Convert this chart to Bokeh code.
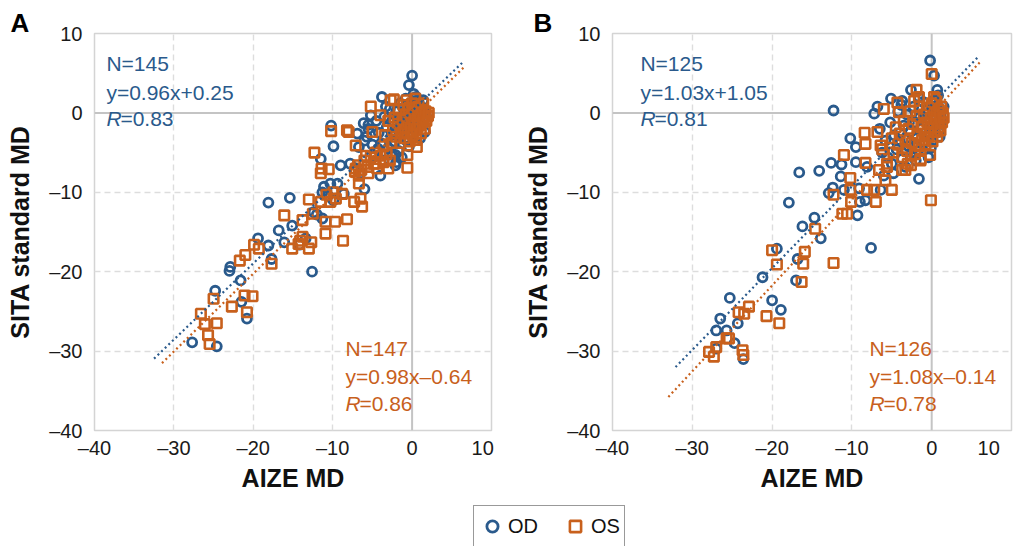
from bokeh.plotting import figure
from bokeh.models import (Range1d, FixedTicker, CustomJSTickFormatter, Span, Label,
                          Legend, LegendItem)
from bokeh.layouts import column, row
from bokeh.embed import file_html
from bokeh.resources import INLINE

BLUE = "#2A5A8C"
ORANGE = "#C8601C"
FONT = "Liberation Sans"

TICKS = [-40, -30, -20, -10, 0, 10]
GRID_TICKS = [-30, -20, -10]

# ---------------- Panel A data (AIZE MD, SITA standard MD) ----------------
A_OD = [(-27.7, -28.9), (-24.6, -29.4), (-24.8, -22.4), (-22.9, -19.4), (-23.0, -19.9),
        (-21.6, -21.1), (-21.5, -23.8), (-20.8, -25.9), (-19.4, -15.8), (-18.1, -16.7),
        (-18.1, -11.3), (-17.7, -18.4), (-16.8, -14.8), (-16.1, -16.3), (-15.4, -10.7),
        (-15.1, -14.2), (-12.6, -20.0), (-12.4, -12.5), (-11.5, -5.8), (-11.3, -10.0),
        (-11.3, -13.3), (-11.1, -9.3), (-10.2, -1.6), (-9.9, -4.2), (-10.3, -8.9),
        (-9.9, -11.0), (-9.4, -8.9), (-9.0, -6.6), (-7.8, -6.4), (-6.9, -2.6),
        (-6.7, -4.3), (-6.5, -7.6), (-6.1, -1.3), (-5.2, -0.3), (-5.7, -3.0),
        (-3.8, 2.0), (-4.0, -7.9), (-2.1, -6.6), (-2.1, -5.3), (-0.4, 3.5),
        (0.0, 4.7), (0.2, 2.4), (0.6, -3.0), (0.8, 1.6), (-10.6, -10.4),
        (-8.6, -10.2), (-12.0, -12.8), (-13.4, -15.8), (-14.2, -16.6), (-6.0, -9.6),
        (-4.3, -4.5), (-5.5, -1.5),
        (-4.5, -1.0), (-4.2, -2.5), (-3.9, -3.8), (-3.5, -0.5), (-3.2, -1.8),
        (-3.0, -4.5), (-2.8, 0.5), (-2.6, -2.8), (-2.4, -1.2), (-2.2, -3.6),
        (-2.0, 0.2), (-1.9, -2.0), (-1.7, -4.8), (-1.6, -0.8), (-1.5, 1.2),
        (-1.4, -3.0), (-1.2, -1.5), (-1.1, 0.6), (-1.0, -2.4), (-0.9, -0.3),
        (-0.8, 1.8), (-0.7, -3.5), (-0.6, -1.0), (-0.5, 0.3), (-0.4, -2.0),
        (-0.3, 1.0), (-0.2, -0.6), (-0.1, -1.6), (0.0, 0.0), (0.1, -2.8),
        (0.2, 0.8), (0.3, -1.2), (0.4, 1.5), (0.5, -0.4), (0.6, -2.2),
        (0.7, 0.4), (0.8, -1.0), (0.9, 1.1), (1.0, -0.2), (1.1, -1.6),
        (1.2, 0.6), (1.3, -0.8), (1.5, 0.2), (1.6, -2.4), (1.8, -0.5),
        (-5.0, -4.0), (-4.8, -5.5), (-3.6, -6.0), (-2.5, -5.2), (-6.0, -3.5),
        (-5.5, -2.0), (-3.3, 0.8), (-2.0, -6.2), (1.4, 1.6), (0.5, 2.0),
        (-0.4, -4.2), (1.0, -3.2), (-1.3, -5.6)]

A_OS = [(-26.6, -25.3), (-26.1, -26.6), (-25.7, -28.0), (-25.5, -29.1), (-25.0, -23.4),
        (-24.6, -26.5), (-22.7, -24.4), (-21.7, -18.6), (-21.0, -17.9), (-21.1, -23.0),
        (-20.8, -25.1), (-20.1, -23.1), (-19.9, -16.6), (-19.3, -17.1), (-17.7, -19.0),
        (-16.1, -12.9), (-15.1, -17.1), (-14.3, -16.5), (-14.1, -16.1), (-13.8, -13.5),
        (-13.8, -15.6), (-13.0, -17.1), (-12.7, -16.3), (-13.0, -10.9), (-12.5, -12.7),
        (-12.3, -5.0), (-11.5, -11.2), (-11.5, -7.6), (-11.4, -7.0), (-10.5, -7.1),
        (-10.9, -13.7), (-10.9, -15.2), (-10.2, -2.3), (-10.3, -11.2), (-9.9, -10.0),
        (-9.7, -13.7), (-8.8, -10.2), (-8.7, -16.1), (-8.2, -13.4), (-8.2, -2.2),
        (-8.0, -2.4), (-7.3, -11.2), (-7.1, -4.1), (-7.1, -7.0), (-6.7, -7.9),
        (-6.7, -8.9), (-6.5, -10.8), (-6.3, -11.8), (-5.2, 0.8), (-5.0, -2.4),
        (-5.5, -7.6), (-4.6, -6.4), (-4.0, -0.3), (-2.7, 1.6), (-2.3, 1.7),
        (-0.6, -5.3), (-0.6, -6.9), (0.6, -4.3), (-10.8, -10.3), (-9.6, -10.8),
        (-2.6, -3.8), (-2.4, -2.2), (-2.2, -0.6), (-2.0, -3.0), (-1.8, -1.4),
        (-1.7, 0.4), (-1.5, -3.8), (-1.4, -2.4), (-1.2, -0.9), (-1.1, 1.0),
        (-1.0, -3.2), (-0.9, -1.8), (-0.8, -0.2), (-0.7, 1.6), (-0.6, -2.6),
        (-0.5, -1.2), (-0.4, 0.6), (-0.3, -3.6), (-0.2, -2.0), (-0.1, -0.4),
        (0.0, 1.2), (0.1, -2.8), (0.2, -1.4), (0.3, 0.2), (0.4, 1.8),
        (0.5, -3.4), (0.6, -2.0), (0.7, -0.8), (0.8, 0.8), (0.9, -1.6),
        (1.0, -0.2), (1.1, -2.6), (1.2, 0.4), (1.3, -1.2), (1.4, 1.2),
        (1.5, -0.6), (1.6, -2.0), (1.7, 0.2), (1.8, -1.0), (2.0, -0.4),
        (2.1, 0.0), (-3.0, -1.0), (-3.4, -2.8), (-3.6, -4.2),
        (-7.2, -7.4), (-6.8, -6.6), (-6.4, -7.2), (-6.0, -6.0), (-5.6, -6.8),
        (-5.2, -5.6), (-4.8, -6.4), (-4.4, -7.0), (-4.0, -5.4), (-3.6, -6.2),
        (-3.2, -5.2), (-2.8, -6.0), (-3.0, -7.0), (-4.6, -5.0), (-5.8, -5.4)]

# ---------------- Panel B data ----------------
B_OD = [(-27.0, -29.7), (-27.0, -27.4), (-26.5, -25.9), (-25.7, -27.4), (-25.3, -23.3),
        (-24.7, -29.0), (-24.3, -26.5), (-23.6, -31.0), (-21.2, -20.7), (-20.0, -23.6),
        (-19.4, -17.1), (-18.9, -24.8), (-17.9, -11.3), (-17.0, -21.1), (-16.8, -18.4),
        (-16.6, -7.5), (-16.2, -14.3), (-14.7, -13.2), (-14.1, -7.3), (-13.9, -15.8),
        (-12.9, -10.1), (-12.6, -6.3), (-12.3, 0.3), (-12.4, -9.4), (-11.4, -8.0),
        (-11.3, -6.5), (-11.0, -9.7), (-10.2, -3.2), (-9.5, -4.3), (-9.5, -6.2),
        (-9.3, -12.9), (-9.1, -9.5), (-9.0, -11.2), (-8.3, -11.0), (-8.1, -6.8),
        (-7.6, -17.0), (-7.2, -0.1), (-6.8, 0.8), (-6.4, -9.7), (-6.0, -7.9),
        (-5.1, 1.8), (-3.7, 1.5), (-2.6, 2.9), (-1.6, -8.3), (-0.2, 6.6),
        (0.3, 4.7), (0.7, 2.9), (1.1, -0.3), (-0.3, -2.4),
        (-5.8, -3.5), (-5.5, -5.6), (-5.2, -1.2), (-5.0, -6.4), (-4.7, -2.8),
        (-4.4, -4.6), (-4.2, 0.2), (-4.0, -3.4), (-3.7, -5.8), (-3.5, -1.6),
        (-3.3, -6.8), (-3.1, -0.2), (-2.9, -4.2), (-2.7, -2.4), (-2.5, -5.0),
        (-2.3, 0.8), (-2.1, -1.2), (-1.9, -3.2), (-1.7, -4.8), (-1.5, -0.6),
        (-1.3, -2.0), (-1.1, 1.4), (-0.9, -3.6), (-0.7, -1.0), (-0.5, 0.4),
        (-0.3, -2.8), (-0.1, -4.4), (0.1, -0.2), (0.3, 1.6), (0.5, -1.6),
        (0.7, 0.6), (0.9, -2.4), (1.1, 0.0), (1.3, -1.0), (1.5, 0.8),
        (-6.2, -5.0), (-4.8, -7.6), (-2.0, -6.0), (-0.4, -5.6), (0.8, 2.2),
        (-1.6, 2.0), (-3.8, 1.0), (-6.5, -2.0), (0.0, -3.6), (1.0, -3.0)]

B_OS = [(-27.9, -30.1), (-27.3, -30.7), (-27.0, -29.5), (-25.7, -28.4), (-25.4, -28.4),
        (-24.2, -25.1), (-23.5, -25.3), (-22.9, -24.4), (-23.7, -29.9), (-23.6, -30.5),
        (-20.7, -25.6), (-20.0, -17.3), (-19.4, -19.1), (-19.1, -26.5), (-16.3, -21.3),
        (-16.1, -19.0), (-15.9, -17.5), (-14.6, -14.6), (-12.3, -18.9), (-12.3, -10.3),
        (-11.2, -12.7), (-10.6, -12.7), (-11.0, -5.3), (-10.2, -8.2), (-10.2, -9.7),
        (-10.1, -11.2), (-8.4, -2.5), (-8.3, -3.9), (-8.3, -6.3), (-8.1, -9.7),
        (-7.2, -9.7), (-7.0, -11.2), (-6.8, -2.4), (-6.6, -7.2), (-6.4, -4.1),
        (-6.0, 0.5), (-5.8, -8.5), (-5.6, -6.8), (-5.0, -9.7), (-4.3, 1.3),
        (-4.1, 0.1), (-3.7, -7.2), (-3.3, -7.2), (-2.6, -6.6), (-1.9, 2.9),
        (-1.6, 2.0), (-1.4, -5.8), (-0.2, -5.3), (0.0, 4.9), (-0.1, -11.0),
        (0.3, 2.0), (0.9, -1.3),
        (-5.0, -3.2), (-4.8, -5.0), (-4.5, -1.8), (-4.2, -4.0), (-4.0, -2.6),
        (-3.7, -5.6), (-3.5, -1.0), (-3.3, -3.4), (-3.1, -4.8), (-2.9, -2.0),
        (-2.7, 0.2), (-2.5, -3.8), (-2.3, -1.4), (-2.1, -5.2), (-1.9, -0.4),
        (-1.8, -2.8), (-1.6, -4.2), (-1.5, 0.8), (-1.3, -1.8), (-1.2, -3.4),
        (-1.0, -0.2), (-0.9, -2.6), (-0.8, -4.0), (-0.6, 0.6), (-0.5, -1.2),
        (-0.4, -3.0), (-0.2, -2.0), (-0.1, -0.6), (0.0, 1.2), (0.1, -3.6),
        (0.2, -1.4), (0.3, 0.2), (0.4, -2.4), (0.5, -0.8), (0.6, 1.8),
        (0.7, -3.0), (0.8, -1.8), (0.9, 0.4), (1.0, -0.4), (1.1, -2.2),
        (1.2, 0.8), (1.3, -1.2), (1.4, 0.0), (-5.6, -6.4), (-6.2, -4.6),
        (-3.0, -6.4), (-1.4, -6.0), (1.5, -0.6), (-2.2, 1.5)]

# regression fits: slope, intercept, x start, x end
A_OD_FIT = (0.96, 0.25, -32.5, 6.5)
A_OS_FIT = (0.98, -0.64, -31.5, 6.5)
B_OD_FIT = (1.03, 1.05, -32.1, 5.8)
B_OS_FIT = (1.08, -0.14, -33.0, 6.0)

A_OD_TEXT = ["N=145", "y=0.96x+0.25", "=0.83"]
A_OS_TEXT = ["N=147", "y=0.98x\u20130.64", "=0.86"]
B_OD_TEXT = ["N=125", "y=1.03x+1.05", "=0.81"]
B_OS_TEXT = ["N=126", "y=1.08x\u20130.14", "=0.78"]

X_FMT = CustomJSTickFormatter(code="""
var s = tick < 0 ? '\\u2013' + Math.abs(tick) : '' + tick;
return tick >= 10 ? s + '\\u00a0\\u00a0\\u00a0' : s;
""")
Y_FMT = CustomJSTickFormatter(code="return tick < 0 ? '\\u2013' + Math.abs(tick) : '' + tick;")


def add_text(p, lines, x, ys, color):
    common = dict(text_font=FONT, text_font_size="21px", text_color=color,
                  text_baseline="middle", text_align="left")
    p.add_layout(Label(x=x, y=ys[0], text=lines[0], **common))
    p.add_layout(Label(x=x, y=ys[1], text=lines[1], **common))
    p.add_layout(Label(x=x, y=ys[2], text="R", text_font_style="italic", **common))
    p.add_layout(Label(x=x, y=ys[2], x_offset=14, text=lines[2], **common))


def panel(letter, letter_off, od, os_, od_fit, os_fit, od_txt, os_txt, od_tx, os_tx,
          width, left, right):
    p = figure(width=width, height=505, x_range=Range1d(-40, 10), y_range=Range1d(-40, 10),
               output_backend="svg", toolbar_location=None,
               min_border_left=left, min_border_right=right,
               min_border_top=33, min_border_bottom=75)
    p.title.text = letter
    p.title.text_font = FONT
    p.title.text_font_size = "26px"
    p.title.text_font_style = "bold"
    p.title.text_color = "#000000"
    p.title.align = "left"
    p.title.offset = letter_off
    p.title.standoff = -9

    p.outline_line_color = "#d4d4d4"
    p.outline_line_width = 1.5
    for ax in (p.xaxis[0], p.yaxis[0]):
        ax.ticker = FixedTicker(ticks=TICKS)
        ax.axis_line_color = None
        ax.major_tick_line_color = None
        ax.minor_tick_line_color = None
        ax.major_label_text_font = FONT
        ax.major_label_text_font_size = "20px"
        ax.major_label_text_color = "#1a1a1a"
        ax.axis_label_text_font = FONT
        ax.axis_label_text_font_size = "25px"
        ax.axis_label_text_font_style = "bold"
        ax.axis_label_text_color = "#111111"
    p.xaxis[0].formatter = X_FMT
    p.yaxis[0].formatter = Y_FMT
    p.xaxis.axis_label = "AIZE MD"
    p.yaxis.axis_label = "SITA standard MD"
    p.xaxis.major_label_standoff = 0
    p.xaxis.axis_label_standoff = 2
    p.yaxis.major_label_standoff = 6
    p.yaxis.axis_label_standoff = 12

    p.xgrid[0].ticker = FixedTicker(ticks=GRID_TICKS)
    p.ygrid[0].ticker = FixedTicker(ticks=GRID_TICKS)
    p.grid.grid_line_color = "#dddddd"
    p.grid.grid_line_dash = "6 4"
    p.grid.grid_line_width = 1.4

    p.add_layout(Span(location=0, dimension="height", line_color="#c4c4c4",
                      line_width=2, level="underlay"))
    p.add_layout(Span(location=0, dimension="width", line_color="#c4c4c4",
                      line_width=2, level="underlay"))

    p.scatter([a for a, b in od], [b for a, b in od], marker="circle", size=9,
              line_color=BLUE, line_width=2.8, fill_color=None)
    p.scatter([a for a, b in os_], [b for a, b in os_], marker="square", size=9.5,
              line_color=ORANGE, line_width=2.6, fill_color=None)

    for fit, col in ((od_fit, BLUE), (os_fit, ORANGE)):
        m, c, x0, x1 = fit
        p.line([x0, x1], [m * x0 + c, m * x1 + c], line_color=col, line_width=2.2,
               line_dash="2 3")

    add_text(p, od_txt, od_tx, [6.2, 2.6, -0.7], BLUE)
    add_text(p, os_txt, os_tx, [-29.7, -33.2, -36.6], ORANGE)
    return p


pA = panel("A", -84, A_OD, A_OS, A_OD_FIT, A_OS_FIT, A_OD_TEXT, A_OS_TEXT, -38.5, -8.4,
           510, 94, 19)
pB = panel("B", -79, B_OD, B_OS, B_OD_FIT, B_OS_FIT, B_OD_TEXT, B_OS_TEXT, -36.5, -7.8,
           506, 102, 5)

# legend strip (dummy renderers placed outside the visible range)
lp = figure(width=1016, height=41, x_range=Range1d(0, 1), y_range=Range1d(0, 1),
            toolbar_location=None, output_backend="svg", min_border=0,
            x_axis_location=None, y_axis_location=None)
lp.outline_line_color = None
lp.grid.visible = False
r1 = lp.scatter(x=[5], y=[5], marker="circle", size=9, line_color=BLUE, line_width=2.8,
                fill_color=None)
r2 = lp.scatter(x=[5], y=[5], marker="square", size=9.5, line_color=ORANGE, line_width=2.6,
                fill_color=None)
leg = Legend(items=[LegendItem(label="OD", renderers=[r1]),
                    LegendItem(label="OS", renderers=[r2])],
             orientation="horizontal", location=(473, -1), padding=4, spacing=23,
             glyph_width=28, glyph_height=28, label_standoff=2, label_height=32,
             margin=0, border_line_color="#333333", border_line_width=1.2,
             label_text_font=FONT, label_text_font_size="20px", label_text_color="#111111",
             background_fill_color="white", background_fill_alpha=1.0)
lp.add_layout(leg)

layout = column(row(pA, pB), lp)
open("out.html", "w").write(file_html(layout, INLINE))
